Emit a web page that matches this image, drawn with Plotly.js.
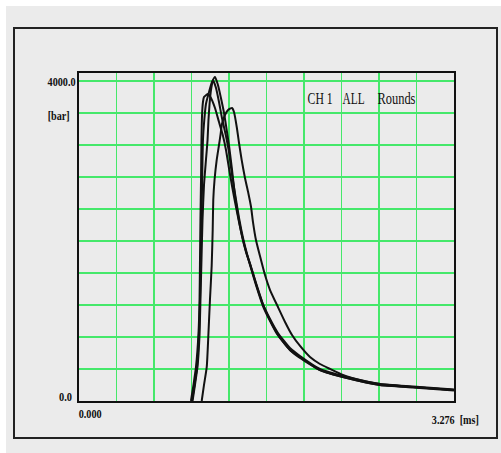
<!DOCTYPE html>
<html>
<head>
<meta charset="utf-8">
<script src="https://cdn.plot.ly/plotly-3.0.1.min.js"></script>
<style>
  html, body { margin: 0; padding: 0; background: #ffffff; }
  #chart { position: absolute; left: 6px; top: 6px; width: 495px; height: 447px; }
</style>
</head>
<body>
<div id="chart"></div>
<script>
// Time axis in ms, pressure in bar
const xMax = 3.276;
const yMax = 4096;
const xGridStep = 0.3276;
const yGridStep = 400;

// Round 1 (early rise, flat shoulder)
const round1_t = [0.978, 1.000, 1.022, 1.044, 1.053, 1.057, 1.061, 1.066, 1.070, 1.075, 1.083, 1.092, 1.127, 1.153, 1.188, 1.223, 1.258, 1.284, 1.310, 1.337, 1.363, 1.398, 1.433, 1.468, 1.494, 1.546, 1.607, 1.669, 1.730, 1.843, 1.931, 2.105, 2.341, 2.630, 2.918, 3.276];
const round1_p = [0, 200, 425, 849, 1261, 1761, 2260, 2760, 3259, 3572, 3734, 3796, 3834, 3784, 3659, 3484, 3309, 3134, 2910, 2685, 2485, 2235, 2011, 1823, 1698, 1449, 1186, 999, 837, 637, 549, 387, 287, 200, 169, 131];

// Round 2 (highest peak)
const round2_t = [0.987, 1.009, 1.031, 1.048, 1.057, 1.064, 1.070, 1.076, 1.083, 1.096, 1.109, 1.136, 1.162, 1.188, 1.214, 1.240, 1.267, 1.293, 1.310, 1.337, 1.363, 1.389, 1.424, 1.459, 1.494, 1.546, 1.607, 1.669, 1.738, 1.843, 1.931, 2.105, 2.341, 2.630, 2.918, 3.276];
const round2_p = [0, 200, 425, 849, 1261, 1761, 2260, 2760, 3259, 3534, 3709, 3859, 3984, 4046, 3946, 3784, 3597, 3359, 3197, 2885, 2560, 2323, 2061, 1861, 1711, 1474, 1211, 1024, 849, 662, 562, 400, 300, 212, 181, 144];

// Round 3
const round3_t = [0.992, 1.013, 1.035, 1.053, 1.061, 1.070, 1.079, 1.092, 1.109, 1.123, 1.131, 1.140, 1.153, 1.171, 1.197, 1.223, 1.249, 1.284, 1.310, 1.337, 1.372, 1.398, 1.433, 1.468, 1.503, 1.555, 1.616, 1.677, 1.747, 1.843, 1.931, 2.105, 2.341, 2.630, 2.918, 3.276];
const round3_p = [0, 200, 425, 824, 1261, 1761, 2260, 2697, 3010, 3259, 3509, 3696, 3884, 4009, 3909, 3734, 3534, 3309, 3110, 2822, 2510, 2285, 2036, 1836, 1673, 1424, 1174, 987, 812, 637, 537, 387, 287, 200, 175, 137];

// Round 4 (late rise, lower peak)
const round4_t = [1.072, 1.092, 1.116, 1.131, 1.144, 1.159, 1.168, 1.173, 1.184, 1.203, 1.223, 1.236, 1.249, 1.275, 1.302, 1.337, 1.354, 1.378, 1.398, 1.421, 1.450, 1.479, 1.503, 1.520, 1.546, 1.581, 1.625, 1.669, 1.738, 1.800, 1.861, 1.931, 2.018, 2.105, 2.193, 2.306, 2.455, 2.630, 2.918, 3.276];
const round4_p = [0, 200, 425, 849, 1261, 1686, 2135, 2510, 2760, 3010, 3197, 3322, 3459, 3572, 3634, 3659, 3609, 3422, 3222, 3010, 2785, 2598, 2423, 2235, 2011, 1811, 1573, 1386, 1174, 987, 824, 687, 549, 462, 400, 325, 262, 212, 175, 137];

// Text labels
const yTopLabel = '4000.0';
const yUnitLabel = '[bar]';
const yZeroLabel = '0.0';
const xZeroLabel = '0.000';
const xEndLabel = '3.276\u00A0\u00A0[ms]';
const titleParts = ['CH\u00A01', 'ALL', 'Rounds'];

const rounds = [[round1_t, round1_p], [round2_t, round2_p], [round3_t, round3_p], [round4_t, round4_p]];

const traces = rounds.map(r => ({
  x: r[0], y: r[1], type: 'scatter', mode: 'lines',
  line: { color: '#111111', width: 2, shape: 'spline', smoothing: 0.5 },
  hoverinfo: 'skip'
}));

const gridGreen = '#45e86a';
const serif = 'Liberation Serif, Times New Roman, serif';

function xPaper(px) { return (px - 79) / 375; }
function yPaper(py) { return (401 - py) / 328; }

// [text, centre x, centre y, width, size, bold]
const labelSpecs = [
  [yTopLabel, 61, 81.5, 28, 13.5, true],
  [yUnitLabel, 58, 115, 22, 13.5, true],
  [yZeroLabel, 65.5, 396.5, 13, 13.5, true],
  [xZeroLabel, 90.5, 413, 23, 13.5, true],
  [xEndLabel, 455.5, 419, 47, 13.5, true],
  [titleParts[0], 319.5, 98.5, 25, 16, false],
  [titleParts[1], 353, 98.5, 22, 16, false],
  [titleParts[2], 396, 98.5, 38, 16, false]
];

const layout = {
  width: 495, height: 447,
  margin: { l: 73, r: 47, t: 67, b: 52, pad: 0 },
  paper_bgcolor: '#ebebeb',
  plot_bgcolor: '#ebebeb',
  showlegend: false,
  xaxis: {
    range: [0, xMax], tick0: 0, dtick: xGridStep,
    showgrid: true, gridcolor: gridGreen, gridwidth: 1.5,
    showticklabels: false, ticks: '', zeroline: false,
    showline: true, mirror: true, linecolor: '#111111', linewidth: 2,
    fixedrange: true
  },
  yaxis: {
    range: [0, yMax], tick0: 0, dtick: yGridStep,
    showgrid: true, gridcolor: gridGreen, gridwidth: 2,
    showticklabels: false, ticks: '', zeroline: false,
    showline: true, mirror: true, linecolor: '#111111', linewidth: 2,
    fixedrange: true
  },
  shapes: [{
    type: 'rect', xref: 'paper', yref: 'paper',
    x0: xPaper(14), x1: xPaper(497), y0: yPaper(438), y1: yPaper(28),
    line: { color: '#222222', width: 2 }, fillcolor: 'rgba(0,0,0,0)'
  }],
  annotations: labelSpecs.map(s => ({
    text: s[5] ? '<b>' + s[0] + '</b>' : s[0],
    xref: 'paper', yref: 'paper', x: xPaper(s[1]), y: yPaper(s[2]),
    xanchor: 'center', yanchor: 'middle', align: 'center', showarrow: false,
    font: { family: serif, size: s[4], color: '#111' }
  }))
};

Plotly.newPlot('chart', traces, layout, { staticPlot: true, displayModeBar: false }).then(gd => {
  // condense label glyphs to the narrow face seen in the original
  const groups = gd.querySelectorAll('g.annotation');
  groups.forEach((g, i) => {
    const t = g.querySelector('text.annotation-text');
    if (t && labelSpecs[i]) {
      t.setAttribute('textLength', labelSpecs[i][3]);
      t.setAttribute('lengthAdjust', 'spacingAndGlyphs');
    }
  });
});
</script>
</body>
</html>
